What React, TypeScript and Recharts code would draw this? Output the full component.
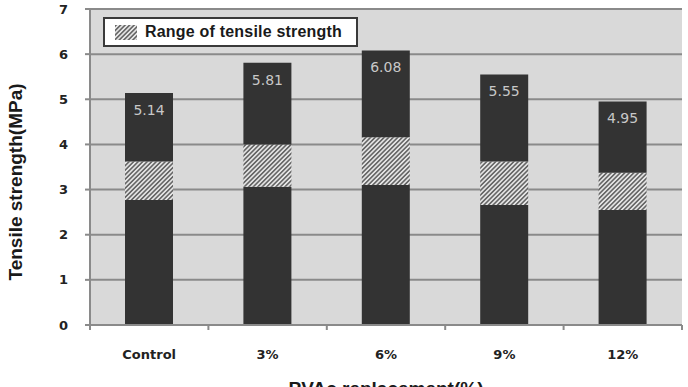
import React from "react";
import {
  BarChart,
  Bar,
  XAxis,
  YAxis,
  CartesianGrid,
  Legend,
  LabelList,
} from "recharts";

const categories = ["Control", "3%", "6%", "9%", "12%"];
const rangeLow = [2.77, 3.06, 3.1, 2.66, 2.55];
const rangeHigh = [3.62, 4.0, 4.16, 3.62, 3.37];
const strength = [5.14, 5.81, 6.08, 5.55, 4.95];
const yTicks = [0, 1, 2, 3, 4, 5, 6, 7];

const data = categories.map((name, i) => ({
  name,
  base: rangeLow[i],
  range: +(rangeHigh[i] - rangeLow[i]).toFixed(2),
  rest: +(strength[i] - rangeHigh[i]).toFixed(2),
  total: strength[i].toFixed(2),
}));

const W = 688;
const H = 387;
const Y_AXIS_W = 90;
const RIGHT = 6;
const BAND = (W - Y_AXIS_W - RIGHT) / categories.length;
const TICK_GAP = 25;

const GRID = "#8a8a8a";
const BAR = "#333333";
const TITLE_FONT = "'Liberation Sans', Arial, sans-serif";
const TICK_FONT = "'DejaVu Sans', Verdana, sans-serif";

function HatchDef({ id }: { id: string }) {
  return (
    <pattern
      id={id}
      patternUnits="userSpaceOnUse"
      width={3.2}
      height={3.2}
      patternTransform="rotate(45)"
    >
      <rect x={0} y={0} width={3.2} height={3.2} fill="#e4e4e4" />
      <rect x={0} y={0} width={1.6} height={3.2} fill="#676767" />
    </pattern>
  );
}

// category label plus the small tick marks that sit between categories
function CategoryTick(props: any) {
  const { x, y, payload, index } = props;
  const axisY = y - TICK_GAP;
  const left = x - BAND / 2;
  const right = x + BAND / 2;
  return (
    <g>
      <line x1={left} x2={left} y1={axisY} y2={axisY + 5} stroke={GRID} strokeWidth={2} />
      {index === categories.length - 1 && (
        <line x1={right} x2={right} y1={axisY} y2={axisY + 5} stroke={GRID} strokeWidth={2} />
      )}
      <text
        x={x}
        y={y + 9}
        textAnchor="middle"
        fill="#222"
        fontSize={13}
        fontWeight={700}
        fontFamily={TICK_FONT}
      >
        {payload.value}
      </text>
    </g>
  );
}

function LegendBox() {
  return (
    <div
      style={{
        width: 255,
        height: 30,
        boxSizing: "border-box",
        border: "2px solid #3a3a3a",
        background: "#fff",
        display: "flex",
        alignItems: "center",
        paddingLeft: 10,
      }}
    >
      <svg width={22} height={15} style={{ marginRight: 8 }}>
        <defs>
          <HatchDef id="hatchLegend" />
        </defs>
        <rect width={22} height={15} fill="url(#hatchLegend)" />
      </svg>
      <span
        style={{
          fontFamily: TITLE_FONT,
          fontWeight: 700,
          fontSize: 16,
          color: "#1a1a1a",
          letterSpacing: 0.2,
        }}
      >
        Range of tensile strength
      </span>
    </div>
  );
}

export default function App() {
  return (
    <div style={{ position: "absolute", left: 0, top: 0, background: "#fff" }}>
      <BarChart
        width={W}
        height={H}
        data={data}
        margin={{ top: 9, right: RIGHT, left: 0, bottom: 0 }}
      >
        <defs>
          <HatchDef id="hatch" />
        </defs>
        <CartesianGrid vertical={false} fill="#d9d9d9" stroke={GRID} strokeWidth={2} />
        <XAxis
          dataKey="name"
          height={62}
          tickSize={0}
          tickMargin={TICK_GAP}
          interval={0}
          axisLine={{ stroke: GRID, strokeWidth: 2 }}
          tickLine={false}
          tick={<CategoryTick />}
          label={{
            content: ({ viewBox }: any) => (
              <text
                x={viewBox.x + viewBox.width / 2}
                y={viewBox.y + 70}
                textAnchor="middle"
                fontFamily={TITLE_FONT}
                fontWeight={700}
                fontSize={19}
                fill="#1a1a1a"
              >
                PVAc replacement(%)
              </text>
            ),
          }}
        />
        <YAxis
          width={Y_AXIS_W}
          domain={[0, 7]}
          ticks={yTicks}
          interval={0}
          tickSize={5}
          tickMargin={17}
          axisLine={{ stroke: GRID, strokeWidth: 2 }}
          tickLine={{ stroke: GRID, strokeWidth: 2 }}
          tick={{ fill: "#222", fontSize: 13, fontWeight: 700, fontFamily: TICK_FONT }}
          label={{
            content: ({ viewBox }: any) => {
              const cx = viewBox.x + 22;
              const cy = viewBox.y + viewBox.height / 2 + 15;
              return (
                <text
                  x={cx}
                  y={cy}
                  transform={`rotate(-90, ${cx}, ${cy})`}
                  textAnchor="middle"
                  fontFamily={TITLE_FONT}
                  fontWeight={700}
                  fontSize={19}
                  fill="#1a1a1a"
                >
                  Tensile strength(MPa)
                </text>
              );
            },
          }}
        />
        <Legend
          layout="horizontal"
          verticalAlign="middle"
          align="center"
          wrapperStyle={{ left: 103, top: 17, width: 255, height: 30 }}
          content={() => <LegendBox />}
        />
        <Bar dataKey="base" stackId="s" fill={BAR} barSize={48} isAnimationActive={false} />
        <Bar dataKey="range" stackId="s" fill="url(#hatch)" barSize={48} isAnimationActive={false} />
        <Bar dataKey="rest" stackId="s" fill={BAR} barSize={48} isAnimationActive={false}>
          <LabelList
            dataKey="total"
            position="insideTop"
            offset={12}
            fill="#c8c8c8"
            fontSize={14}
            fontFamily={TICK_FONT}
          />
        </Bar>
      </BarChart>
    </div>
  );
}
